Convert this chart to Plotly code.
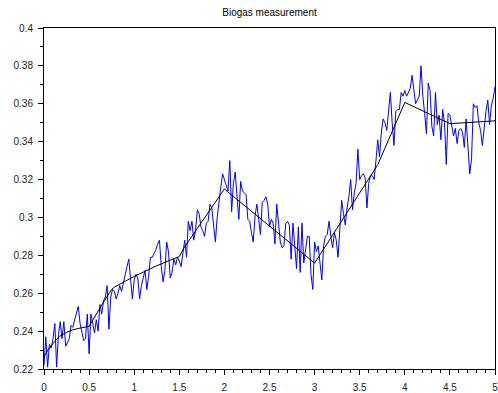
import plotly.graph_objects as go

# Sampled biogas readings, one every 0.02 time units from 0 to 5
t_step = 0.02
biogas = [
    0.222, 0.237, 0.221, 0.233, 0.231, 0.236, 0.244, 0.221, 0.238, 0.245,
    0.236, 0.245, 0.232, 0.234, 0.236, 0.243, 0.242, 0.246, 0.250, 0.253,
    0.244, 0.240, 0.235, 0.236, 0.249, 0.228, 0.249, 0.244, 0.239, 0.246,
    0.240, 0.254, 0.249, 0.256, 0.258, 0.264, 0.241, 0.258, 0.262, 0.261,
    0.257, 0.260, 0.264, 0.261, 0.266, 0.271, 0.274, 0.278, 0.267, 0.257,
    0.267, 0.270, 0.268, 0.257, 0.264, 0.268, 0.272, 0.262, 0.269, 0.279,
    0.279, 0.281, 0.283, 0.286, 0.288, 0.274, 0.266, 0.272, 0.287, 0.282,
    0.268, 0.271, 0.278, 0.275, 0.279, 0.277, 0.274, 0.281, 0.288, 0.279,
    0.298, 0.293, 0.298, 0.288, 0.293, 0.304, 0.302, 0.295, 0.293, 0.290,
    0.297, 0.298, 0.307, 0.305, 0.297, 0.287, 0.300, 0.310, 0.316, 0.323,
    0.320, 0.316, 0.314, 0.330, 0.303, 0.318, 0.324, 0.311, 0.299, 0.319,
    0.314, 0.313, 0.312, 0.299, 0.298, 0.292, 0.287, 0.301, 0.307, 0.299,
    0.291, 0.308, 0.309, 0.311, 0.307, 0.295, 0.299, 0.297, 0.286, 0.307,
    0.297, 0.287, 0.284, 0.285, 0.297, 0.298, 0.296, 0.278, 0.297, 0.282,
    0.273, 0.295, 0.271, 0.297, 0.276, 0.283, 0.290, 0.290, 0.270, 0.262,
    0.287, 0.282, 0.285, 0.276, 0.267, 0.285, 0.290, 0.291, 0.298, 0.290,
    0.284, 0.292, 0.288, 0.279, 0.293, 0.309, 0.302, 0.296, 0.305, 0.311,
    0.320, 0.304, 0.313, 0.318, 0.336, 0.320, 0.322, 0.323, 0.321, 0.305,
    0.318, 0.322, 0.322, 0.320, 0.330, 0.341, 0.332, 0.345, 0.352, 0.350,
    0.346, 0.355, 0.366, 0.350, 0.338, 0.356, 0.357, 0.357, 0.366, 0.364,
    0.367, 0.364, 0.366, 0.368, 0.375, 0.367, 0.360, 0.362, 0.364, 0.380,
    0.364, 0.355, 0.344, 0.371, 0.367, 0.348, 0.343, 0.366, 0.349, 0.354,
    0.341, 0.357, 0.350, 0.328, 0.355, 0.354, 0.348, 0.343, 0.347, 0.339,
    0.346, 0.347, 0.345, 0.337, 0.352, 0.337, 0.323, 0.331, 0.360, 0.358,
    0.359, 0.350, 0.346, 0.338, 0.348, 0.356, 0.362, 0.349, 0.359, 0.363,
    0.369,
]
t = [round(i * t_step, 4) for i in range(len(biogas))]

# Underlying trend curve (breakpoints)
trend_t = [0, 0.05, 0.1, 0.17, 0.25, 0.32, 0.4, 0.5, 0.63, 0.72, 0.75, 0.78,
           1.0, 1.25, 1.5, 1.55, 2.0, 3.0, 3.7, 4.0, 4.5, 5.0]
trend = [0.2265, 0.2305, 0.2335, 0.2372, 0.2393, 0.2407, 0.2416, 0.2425,
         0.2530, 0.2600, 0.2620, 0.2632, 0.2689, 0.2745, 0.2794, 0.2838,
         0.3150, 0.2759, 0.3278, 0.3607, 0.3495, 0.3510]

x_range = [0, 5]
y_range = [0.22, 0.4]

font_family = "Liberation Sans, Arial, sans-serif"
tick_font = dict(family=font_family, size=10, color="#222222")

fig = go.Figure()
fig.add_trace(go.Scatter(x=t, y=biogas, mode="lines",
                         line=dict(color="#0000ff", width=1)))
fig.add_trace(go.Scatter(x=trend_t, y=trend, mode="lines",
                         line=dict(color="#000000", width=1)))

axis_common = dict(
    showgrid=False, zeroline=False,
    showline=True, linecolor="black", linewidth=1, mirror=True,
    ticks="outside", ticklen=5, tickcolor="black", tickwidth=1,
    tickfont=tick_font, ticklabeloverflow="allow",
)

fig.update_layout(
    width=498, height=393,
    margin=dict(l=44, r=0, t=28, b=24),
    paper_bgcolor="white", plot_bgcolor="white",
    showlegend=False,
    title=dict(text="Biogas measurement", x=0.5, xref="paper",
               y=1 - 12 / 393, yref="container", yanchor="middle",
               font=dict(family=font_family, size=10, color="black")),
    xaxis=dict(range=x_range, tick0=0, dtick=0.5, ticklabelstandoff=4,
               minor=dict(dtick=0.1, ticks="outside", ticklen=3,
                          tickcolor="black", showgrid=False),
               **axis_common),
    yaxis=dict(range=y_range, tick0=0.22, dtick=0.02, ticklabelstandoff=3,
               minor=dict(dtick=0.01, ticks="outside", ticklen=3,
                          tickcolor="black", showgrid=False),
               **axis_common),
)

fig.write_html("out.html")
